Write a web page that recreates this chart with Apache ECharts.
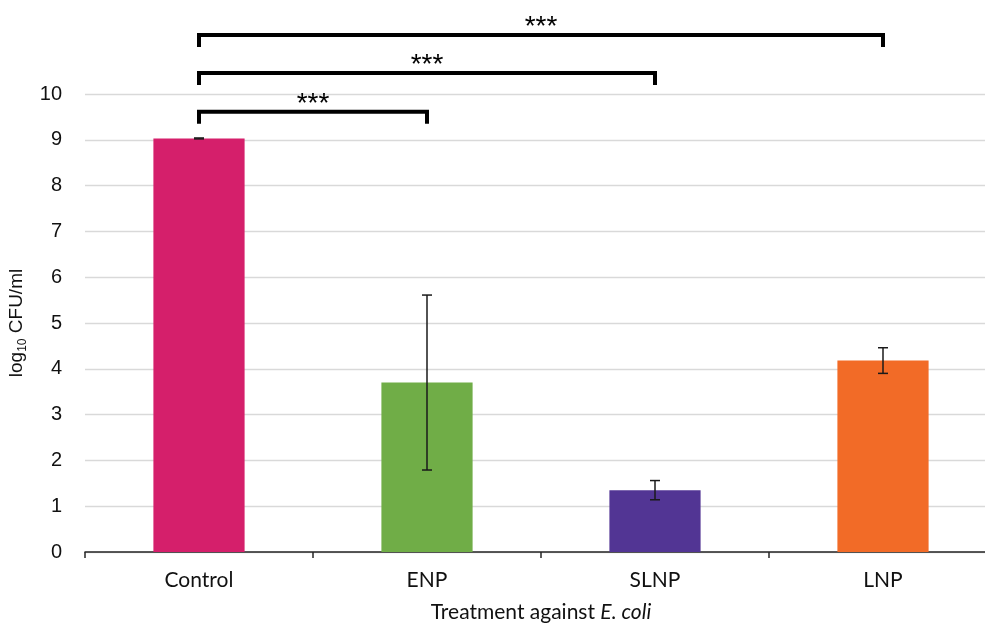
<!DOCTYPE html>
<html>
<head>
<meta charset="utf-8">
<script src="https://cdn.jsdelivr.net/npm/echarts@6/dist/echarts.min.js"></script>
<style>html,body{margin:0;padding:0;background:#fff}#c{width:985px;height:626px}</style>
</head>
<body>
<div id="c"></div>
<script>
const categories = ['Control', 'ENP', 'SLNP', 'LNP'];
const means = [9.03, 3.70, 1.35, 4.18];
const sds = [0.01, 1.91, 0.21, 0.28];
const barColors = ['#D51F6B', '#70AD47', '#523594', '#F26B27'];
// significance comparisons: [from category, to category, bracket level (data units), label]
const comparisons = [
  [0, 1, 9.61, '***'],
  [0, 2, 10.46, '***'],
  [0, 3, 11.29, '***']
];
const yMin = 0, yMax = 10, yInterval = 1;

const chart = echarts.init(document.getElementById('c'));

const errData = categories.map((c, i) => [i, means[i] - sds[i], means[i] + sds[i]]);

chart.setOption({
  animation: false,
  grid: { left: 85, right: -12, top: 94, bottom: 74, containLabel: false, outerBoundsMode: 'none' },
  xAxis: {
    type: 'category',
    data: categories,
    boundaryGap: true,
    axisLine: { lineStyle: { color: '#262626', width: 1.5 } },
    axisTick: { show: true, alignWithLabel: false, length: 6, lineStyle: { color: '#262626', width: 1.5 } },
    axisLabel: { color: '#111', fontSize: 21, fontFamily: 'Lato', margin: 18 },
    name: '{n|Treatment against }{i|E. coli}',
    nameLocation: 'middle',
    nameGap: 50,
    nameTextStyle: {
      rich: {
        n: { fontSize: 21, fontFamily: 'Lato', color: '#111' },
        i: { fontSize: 21, fontFamily: 'Lato', fontStyle: 'italic', color: '#111' }
      }
    }
  },
  yAxis: {
    type: 'value',
    min: yMin, max: yMax, interval: yInterval,
    axisLine: { show: false },
    axisTick: { show: false },
    splitLine: { lineStyle: { color: '#d9d9d9', width: 1.3 } },
    axisLabel: { color: '#111', fontSize: 20, fontFamily: 'Liberation Sans', margin: 23 },
    name: '{a|log}{b|10}{a| CFU/ml}',
    nameLocation: 'middle',
    nameGap: 55,
    nameRotate: 90,
    nameTextStyle: {
      rich: {
        a: { fontSize: 19, fontFamily: 'Liberation Sans', color: '#111', lineHeight: 24 },
        b: { fontSize: 12, fontFamily: 'Liberation Sans', color: '#111', lineHeight: 24, verticalAlign: 'bottom', padding: [7, 0, 0, 0] }
      }
    }
  },
  series: [
    {
      type: 'bar',
      data: means.map((v, i) => ({ value: v, itemStyle: { color: barColors[i] } })),
      barWidth: '40%'
    },
    {
      type: 'custom',
      data: errData,
      clip: false,
      z: 10,
      renderItem: function (params, api) {
        const x = api.value(0);
        const lo = api.coord([x, api.value(1)]);
        const hi = api.coord([x, api.value(2)]);
        const hw = 5;
        const st = { stroke: '#1a1a1a', lineWidth: 1.5 };
        return {
          type: 'group',
          children: [
            { type: 'line', shape: { x1: lo[0], y1: lo[1], x2: hi[0], y2: hi[1] }, style: st },
            { type: 'line', shape: { x1: lo[0] - hw, y1: lo[1], x2: lo[0] + hw, y2: lo[1] }, style: st },
            { type: 'line', shape: { x1: hi[0] - hw, y1: hi[1], x2: hi[0] + hw, y2: hi[1] }, style: st }
          ]
        };
      }
    },
    {
      type: 'custom',
      data: comparisons.map(c => [c[0], c[1], c[2]]),
      clip: false,
      z: 10,
      renderItem: function (params, api) {
        const a = api.coord([api.value(0), api.value(2)]);
        const b = api.coord([api.value(1), api.value(2)]);
        const drop = 12;
        const st = { stroke: '#000', lineWidth: 4, lineJoin: 'miter', fill: null };
        return {
          type: 'group',
          children: [
            { type: 'polyline', shape: { points: [[a[0], a[1] + drop], [a[0], a[1]], [b[0], a[1]], [b[0], a[1] + drop]] }, style: st },
            { type: 'text', style: { text: comparisons[params.dataIndex][3], x: (a[0] + b[0]) / 2, y: a[1] - 8, align: 'center', verticalAlign: 'middle', fontSize: 28, fontFamily: 'Liberation Sans', fill: '#000' } }
          ]
        };
      }
    }
  ]
});
</script>
</body>
</html>
